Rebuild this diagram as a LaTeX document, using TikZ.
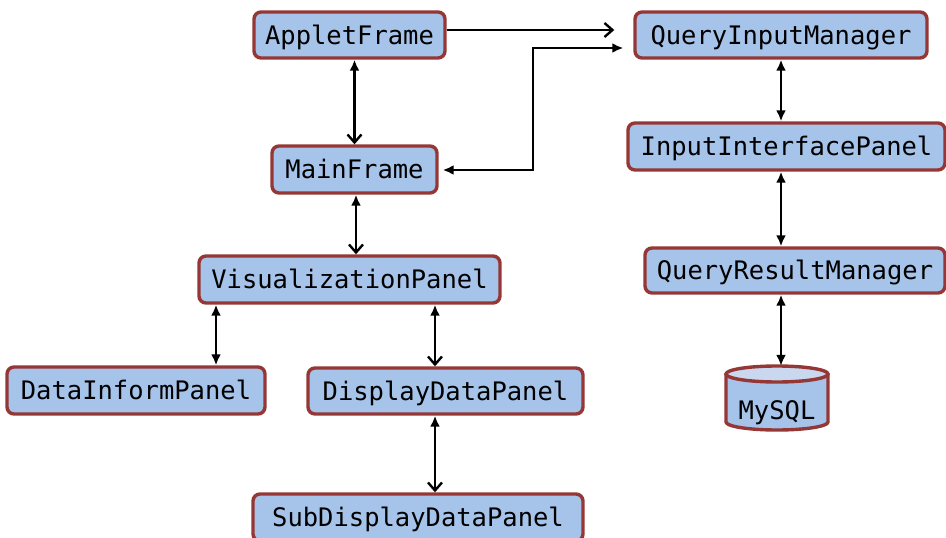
\documentclass[tikz,border=0pt]{standalone}
\usepackage{fontspec}
\newfontfamily\monofam{DejaVu Sans Mono}
\usetikzlibrary{arrows.meta,calc}
\definecolor{boxfill}{HTML}{A6C3EA}
\definecolor{boxtop}{HTML}{C9D8EE}
\definecolor{brd}{HTML}{953735}
\tikzset{
  box/.style={draw=brd, line width=3.4pt, fill=boxfill, rounded corners=7pt,
    font=\monofam\fontsize{25.5}{30}\selectfont, text height=20pt, text depth=2pt,
    inner sep=0pt, anchor=center},
  conn/.style={line width=2.6pt, black},
  fh/.tip={Latex[length=11pt,width=10pt]},
  oh/.tip={Straight Barb[length=8pt,width=14pt,line width=2.4pt]},
}
\begin{document}
\begin{tikzpicture}[x=1pt,y=-1pt]
\useasboundingbox (0,0) rectangle (946,538);
% nodes
\node[box, minimum width=191, minimum height=46] (applet) at (349.5,35) {AppletFrame};
\node[box, minimum width=292, minimum height=46] (qim) at (781,35) {QueryInputManager};
\node[box, minimum width=165, minimum height=47] (main) at (354.5,169.5) {MainFrame};
\node[box, minimum width=317, minimum height=47] (iip) at (786.5,146.5) {InputInterfacePanel};
\node[box, minimum width=301, minimum height=47] (vis) at (349.5,279.5) {VisualizationPanel};
\node[box, minimum width=300, minimum height=45] (qrm) at (795,270.5) {QueryResultManager};
\node[box, minimum width=258, minimum height=47] (dip) at (136,390.5) {DataInformPanel};
\node[box, minimum width=275, minimum height=46] (ddp) at (445.5,391) {DisplayDataPanel};
\node[box, minimum width=330, minimum height=47] (sub) at (418,517.5) {SubDisplayDataPanel};
% MySQL cylinder
\node[minimum width=102, minimum height=64, inner sep=0pt] (mysql) at (777,398) {};
\fill[boxfill] (726,374) -- (726,422) arc[start angle=180, end angle=0, x radius=51, y radius=8]
   -- (828,374) arc[start angle=0, end angle=-180, x radius=51, y radius=8] -- cycle;
\draw[brd, line width=3.4pt] (726,374) -- (726,422) arc[start angle=180, end angle=0, x radius=51, y radius=8]
   -- (828,374);
\draw[brd, line width=3.4pt, fill=boxtop] (777,374) ellipse[x radius=51, y radius=8];
\node[font=\monofam\fontsize{25.5}{30}\selectfont, text height=20pt, text depth=2pt, inner sep=0pt] (mysqltext) at (777,410) {MySQL};
% helper coordinates
\coordinate (xa) at (216,0);
\coordinate (xb) at (435,0);
\coordinate (xc) at (781,0);
\coordinate (c1) at (533,170);
\coordinate (c2) at (533,48);
% connectors
\draw[conn, fh-oh] (applet.south -| main.north) -- (main.north);
\draw[conn, fh-oh] ($(main.south)+(1.5,0)$) -- ($(main.south |- vis.north)+(1.5,0)$);
\draw[conn, fh-fh] (vis.south -| xa) -- (dip.north -| xa);
\draw[conn, fh-oh] (vis.south -| xb) -- (ddp.north -| xb);
\draw[conn, fh-oh] (ddp.south -| xb) -- (sub.north -| xb);
\draw[conn, fh-fh] (qim.south -| xc) -- (iip.north -| xc);
\draw[conn, fh-fh] (iip.south -| xc) -- (qrm.north -| xc);
\draw[conn, fh-fh] (qrm.south -| xc) -- (mysql.north -| xc);
\draw[conn, -oh, shorten >=19pt] ($(applet.east)+(0,-5)$) -- ($(qim.west)+(0,-5)$);
\draw[conn, fh-fh, shorten <=10pt, shorten >=4pt] ($(qim.west)+(0,13)$) -- (c2) -- (c1) -- (main.east |- c1);
\end{tikzpicture}
\end{document}
